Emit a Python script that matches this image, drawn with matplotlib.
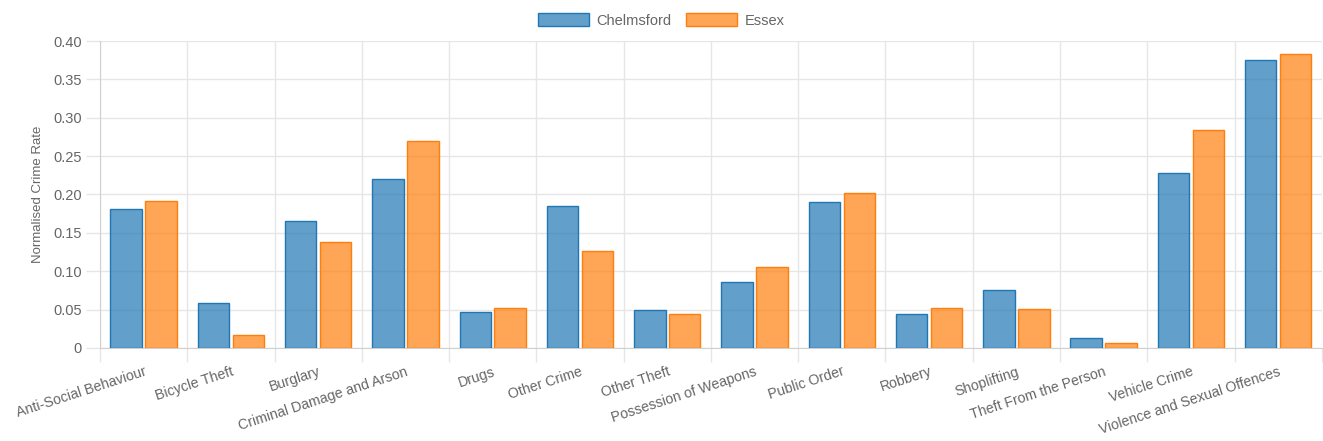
import numpy as np
import matplotlib
matplotlib.use("Agg")
import matplotlib.pyplot as plt
from matplotlib.ticker import FuncFormatter

plt.rcParams['font.family'] = ['Liberation Sans', 'DejaVu Sans']

# crime categories and normalised rates
categories = [
    "Anti-Social Behaviour", "Bicycle Theft", "Burglary", "Criminal Damage and Arson",
    "Drugs", "Other Crime", "Other Theft", "Possession of Weapons", "Public Order",
    "Robbery", "Shoplifting", "Theft From the Person", "Vehicle Crime",
    "Violence and Sexual Offences",
]
chelmsford = [0.181, 0.059, 0.165, 0.220, 0.047, 0.185, 0.049, 0.086, 0.190,
              0.044, 0.075, 0.013, 0.228, 0.375]
essex = [0.192, 0.017, 0.138, 0.270, 0.052, 0.126, 0.044, 0.106, 0.202,
         0.052, 0.051, 0.006, 0.284, 0.383]

grid_col = "#e6e6e6"
text_col = "#666666"

fig = plt.figure(figsize=(13.23, 4.41), dpi=100)
ax = fig.add_axes([0.0756, 0.211, 0.9235, 0.696])

x = np.arange(len(categories))
w = 0.36
ax.bar(x - 0.2, chelmsford, w, color=(31/255, 119/255, 180/255, 0.7),
       edgecolor="#1f77b4", linewidth=1, label="Chelmsford", zorder=3)
ax.bar(x + 0.2, essex, w, color=(255/255, 127/255, 14/255, 0.7),
       edgecolor="#ff7f0e", linewidth=1, label="Essex", zorder=3)

ax.set_xlim(-0.5, len(categories) - 0.5)
ax.set_ylim(0, 0.40)

# labels at category centres, grid lines at category boundaries
ax.set_xticks(x)
ax.set_xticklabels(categories, rotation=18, ha="right", rotation_mode="anchor",
                   fontsize=10.2, color=text_col)
ax.set_xticks(np.arange(len(categories) + 1) - 0.5, minor=True)
ax.tick_params(axis="x", which="major", length=0, pad=12)
ax.tick_params(axis="x", which="minor", length=10, color=grid_col, width=1)
ax.grid(axis="x", which="minor", color=grid_col, linewidth=1)

ax.set_yticks(np.arange(0, 0.401, 0.05))
ax.yaxis.set_major_formatter(FuncFormatter(lambda v, p: "0" if v == 0 else f"{v:.2f}"))
ax.tick_params(axis="y", length=10, color=grid_col, width=1, labelsize=10.5,
               labelcolor=text_col, pad=3)
ax.grid(axis="y", which="major", color=grid_col, linewidth=1)
ax.set_axisbelow(True)

for s in ["top", "right"]:
    ax.spines[s].set_visible(False)
ax.spines["left"].set_color("#d0d0d0")
ax.spines["bottom"].set_color("#d0d0d0")

ax.set_ylabel("Normalised Crime Rate", fontsize=9.5, color=text_col, labelpad=7)

fig.legend(loc="upper center", bbox_to_anchor=(0.5, 1.0), ncol=2, frameon=False,
           fontsize=10.5, handlelength=3.5, handleheight=1.0, columnspacing=1.0,
           handletextpad=0.5, labelcolor=text_col)

fig.savefig("out.png", dpi=100)
